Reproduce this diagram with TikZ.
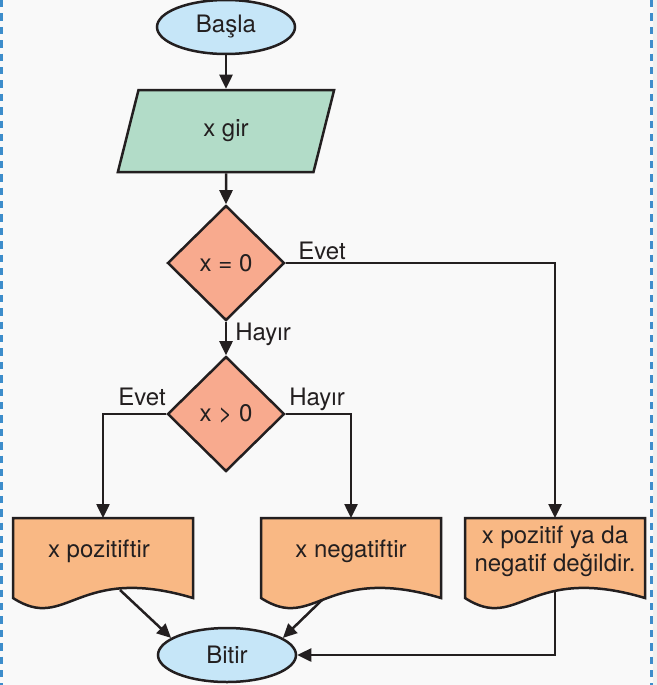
\documentclass[tikz,border=0pt]{standalone}
\usepackage{fontspec}
\setmainfont{TeX Gyre Heros}
\usetikzlibrary{shapes.geometric, arrows.meta}
\definecolor{basmavi}{HTML}{C6E6F8}
\definecolor{girisyesil}{HTML}{B2DCC8}
\definecolor{kararpembe}{HTML}{F8AA8E}
\definecolor{belgeturuncu}{HTML}{F9B884}
\definecolor{kenarmavi}{HTML}{3D8DCB}
\definecolor{zemingri}{HTML}{F9F9F9}
\definecolor{cizgirenk}{HTML}{231F20}
\begin{document}
\begin{tikzpicture}[x=0.5pt, y=-0.5pt, font=\fontsize{12}{14}\selectfont, text=cizgirenk,
    hat/.style={draw=cizgirenk, line width=1.25pt},
    uc/.style={ellipse, hat, fill=basmavi, minimum width=69pt, minimum height=27pt, inner sep=0pt},
    giris/.style={trapezium, trapezium left angle=79, trapezium right angle=101,
      trapezium stretches=true, hat, fill=girisyesil, minimum width=108.5pt, minimum height=41pt},
    sart/.style={diamond, hat, fill=kararpembe, minimum width=58.5pt, minimum height=57.5pt, inner sep=0pt},
    belge/.style={hat, fill=belgeturuncu},
    ok/.style={hat, -{Triangle[length=7pt, width=6.5pt]}},
    etiket/.style={anchor=base west, inner sep=0pt},
    kenar/.style={draw=kenarmavi, line width=1.5pt, dash pattern=on 3.7pt off 3pt}]
    \useasboundingbox (0,0) rectangle (657,685);
    \fill[zemingri] (0,0) rectangle (657,685);
    \fill[black!6] (653,0) rectangle (657,685);
    \draw[kenar] (1.5,0) -- (1.5,685);
    \draw[kenar] (651.5,0) -- (651.5,685);

    \node[uc] (basla) at (226,27) {Başla};
    \node[giris] (gir) at (226,131) {x gir};
    \node[sart] (d1) at (226,263) {x = 0};
    \node[sart] (d2) at (226,414) {x > 0};
    \node[uc] (bitir) at (227,655) {Bitir};

    \foreach \n/\cx/\tx/\et in {
      poz/103/99/{x pozitiftir},
      neg/351/351/{x negatiftir},
      yok/555/555/{x pozitif ya da\\negatif değildir.}}
      {
        \filldraw[belge] (\cx-90,518) -- (\cx+90,518) -- (\cx+90,598)
          .. controls (\cx-27,563) and (\cx-36,633) .. (\cx-90,598) -- cycle;
        \coordinate (\n-ust) at (\cx,518);
        \node[align=center] (\n) at (\tx,551) {\et};
      }
    \coordinate (poz-alt) at (120,590);
    \coordinate (neg-alt) at (322,600);
    \coordinate (yok-alt) at (555,591);

    \node[etiket] (evet1) at (298,259) {Evet};
    \node[etiket] (hayir1) at (235,340) {Hayır};
    \node[etiket] (hayir2) at (289,405) {Hayır};
    \node[etiket] (evet2) at (118,405) {Evet};

    \draw[ok] (basla) -- (gir);
    \draw[ok] (gir) -- (d1);
    \draw[ok] (d1) -- (d2);
    \draw[ok] (d1.east) -| (yok-ust);
    \draw[ok] (d2.east) -| (neg-ust);
    \draw[ok] (d2.west) -| (poz-ust);
    \draw[ok] (poz-alt) -- (bitir.163);
    \draw[ok] (neg-alt) -- (bitir.17);
    \draw[ok] (yok-alt) |- (bitir.east);
  \end{tikzpicture}
\end{document}
